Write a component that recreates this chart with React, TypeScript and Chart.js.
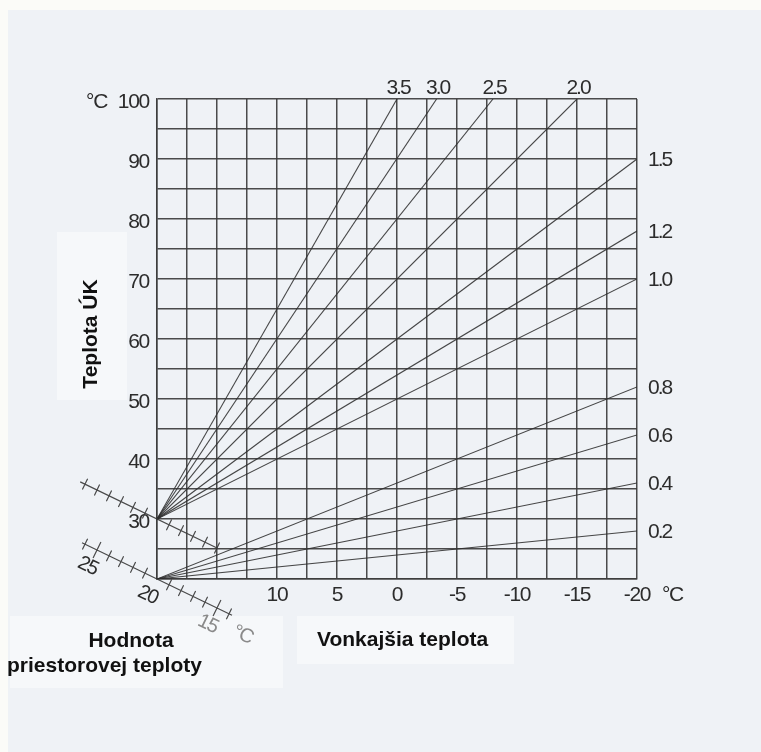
import React, { useEffect, useRef } from 'react';
import { Chart, registerables } from 'chart.js';

Chart.register(...registerables);

// Heating curves: slope label, start point (outdoor 20 °C) and end point
const curveLabels = ['3.5', '3.0', '2.5', '2.0', '1.5', '1.2', '1.0', '0.8', '0.6', '0.4', '0.2'];
const curveStartOutdoor = [20, 20, 20, 20, 20, 20, 20, 20, 20, 20, 20];
const curveStartFlow = [30, 30, 30, 30, 30, 30, 30, 20, 20, 20, 20];
const curveEndOutdoor = [0, -3.3, -8, -15, -20, -20, -20, -20, -20, -20, -20];
const curveEndFlow = [100, 100, 100, 100, 90, 78, 70, 52, 44, 36, 28];

// Axes
const outdoorMin = -20;
const outdoorMax = 20;
const outdoorStep = 2.5;
const flowMin = 20;
const flowMax = 100;
const flowStep = 5;
const outdoorTickLabels = [10, 5, 0, -5, -10, -15, -20];
const flowTickLabels = [100, 90, 80, 70, 60, 50, 40, 30];

// Room temperature (diagonal) scales
const roomScalePivotFlow = [30, 20];
const roomScaleRef = 20;
const roomScaleTicksUpper = [26, 25, 24, 23, 22, 21, 19, 18, 17, 16, 15];
const roomScaleTicksLower = [26, 25, 24, 23, 22, 21, 19, 18, 17, 16, 15, 14];
const roomScaleRangeUpper = [26.4, 15];
const roomScaleRangeLower = [26.25, 13.75];
const roomScaleLongTicks = [25, 15];
const roomScaleLabels = ['25', '20', '15'];
const roomScaleLabelValues = [25, 20, 15];

const unitText = '°C';
const yTitle = 'Teplota ÚK';
const xTitle = 'Vonkajšia teplota';
const roomTitle = ['Hodnota', 'priestorovej teploty'];

const FONT = '"Liberation Sans", Arial, Helvetica, sans-serif';
const TEXT = '#2c2c2c';
const GRID = 'rgba(60,60,60,0.92)';
const CURVE = 'rgba(45,45,45,0.88)';

const decorPlugin = {
  id: 'decor',
  beforeDraw(chart: any) {
    const { ctx, width, height } = chart;
    ctx.save();
    ctx.fillStyle = '#fbfbf8';
    ctx.fillRect(0, 0, width, height);
    ctx.fillStyle = '#eff2f6';
    ctx.fillRect(8, 10, width - 8, height - 10);
    ctx.fillStyle = '#f6f8fa';
    ctx.fillRect(57, 232, 70, 168);
    ctx.fillRect(10, 616, 273, 72);
    ctx.fillRect(297, 616, 217, 48);
    ctx.restore();
    ctx.letterSpacing = '-1.3px';
  },
  afterDraw(chart: any) {
    const { ctx } = chart;
    const xs = chart.scales.x;
    const ys = chart.scales.y;
    ctx.save();

    // curve labels
    ctx.fillStyle = TEXT;
    ctx.font = `21px ${FONT}`;
    ctx.letterSpacing = '-2px';
    curveLabels.forEach((lab, i) => {
      const ex = xs.getPixelForValue(curveEndOutdoor[i]);
      const ey = ys.getPixelForValue(curveEndFlow[i]);
      if (curveEndFlow[i] >= flowMax) {
        ctx.textAlign = 'center';
        ctx.textBaseline = 'alphabetic';
        ctx.fillText(lab, ex + 1, ey - 5);
      } else {
        ctx.textAlign = 'left';
        ctx.textBaseline = 'middle';
        ctx.fillText(lab, ex + 11, ey + 1);
      }
    });

    // unit labels
    ctx.letterSpacing = '-1.3px';
    ctx.textBaseline = 'middle';
    ctx.textAlign = 'right';
    ctx.fillText(unitText, xs.left - 50, ys.getPixelForValue(flowMax) + 3);
    ctx.textAlign = 'left';
    ctx.fillText(unitText, xs.right + 25, ys.bottom + 4 + 12.6);

    // room temperature diagonal scales
    const pxPerUnit = Math.abs(xs.getPixelForValue(roomScaleRef - 1) - xs.getPixelForValue(roomScaleRef));
    const ang = (25.8 * Math.PI) / 180;
    const ux = Math.cos(ang);
    const uy = Math.sin(ang);
    const step = pxPerUnit / ux;
    const pvx = xs.getPixelForValue(curveStartOutdoor[0]);
    const nx = -uy;
    const ny = ux;
    roomScalePivotFlow.forEach((flow, idx) => {
      const pvy = ys.getPixelForValue(flow);
      const pos = (t: number) => {
        const k = roomScaleRef - t;
        return [pvx + ux * step * k, pvy + uy * step * k];
      };
      const range = idx === 0 ? roomScaleRangeUpper : roomScaleRangeLower;
      const ticks = idx === 0 ? roomScaleTicksUpper : roomScaleTicksLower;
      ctx.strokeStyle = 'rgba(55,55,55,0.9)';
      ctx.lineWidth = 1.2;
      ctx.beginPath();
      const a = pos(range[0]);
      const b = pos(range[1]);
      ctx.moveTo(a[0], a[1]);
      ctx.lineTo(b[0], b[1]);
      ticks.forEach((t) => {
        const h = idx === 1 && roomScaleLongTicks.includes(t) ? 9 : 6;
        const p = pos(t);
        ctx.moveTo(p[0] - nx * h, p[1] - ny * h);
        ctx.lineTo(p[0] + nx * h, p[1] + ny * h);
      });
      ctx.stroke();

      if (idx === 1) {
        ctx.font = `20px ${FONT}`;
        ctx.textAlign = 'center';
        ctx.textBaseline = 'middle';
        roomScaleLabels.forEach((lab, j) => {
          const p = pos(roomScaleLabelValues[j] + 0.1);
          const d = 18.5;
          ctx.save();
          ctx.translate(p[0] + nx * d, p[1] + ny * d);
          ctx.rotate(ang);
          ctx.fillStyle = roomScaleLabelValues[j] < roomScaleRef ? '#8a8a8a' : TEXT;
          ctx.fillText(lab, 0, 0);
          ctx.restore();
        });
        const pc = pos(roomScaleRef - 7.6);
        ctx.save();
        ctx.translate(pc[0] + nx * 13, pc[1] + ny * 13);
        ctx.rotate(ang);
        ctx.fillStyle = '#8a8a8a';
        ctx.fillText(unitText, 0, 0);
        ctx.restore();
      }
    });

    // titles
    ctx.letterSpacing = '0px';
    ctx.fillStyle = '#111';
    ctx.font = `bold 21px ${FONT}`;
    ctx.textBaseline = 'alphabetic';
    ctx.save();
    ctx.translate(97, 334);
    ctx.rotate(-Math.PI / 2);
    ctx.textAlign = 'center';
    ctx.fillText(yTitle, 0, 0);
    ctx.restore();
    ctx.textAlign = 'center';
    ctx.fillText(roomTitle[0], 131, 647);
    ctx.textAlign = 'left';
    ctx.fillText(roomTitle[1], 7, 672);
    ctx.fillText(xTitle, 317, 646);

    ctx.restore();
  },
};

export default function App() {
  const ref = useRef<HTMLCanvasElement>(null);
  useEffect(() => {
    const canvas = ref.current;
    if (!canvas) return;
    const chart = new Chart(canvas, {
      type: 'scatter',
      data: {
        datasets: curveLabels.map((lab, i) => ({
          label: lab,
          data: [
            { x: curveStartOutdoor[i], y: curveStartFlow[i] },
            { x: curveEndOutdoor[i], y: curveEndFlow[i] },
          ],
          showLine: true,
          borderColor: CURVE,
          borderWidth: 1.1,
          pointRadius: 0,
          pointHoverRadius: 0,
          fill: false,
        })),
      },
      options: {
        animation: false,
        responsive: false,
        devicePixelRatio: 1,
        events: [],
        layout: { padding: { left: 117, right: 124, top: 99, bottom: 143 } },
        plugins: {
          legend: { display: false },
          tooltip: { enabled: false },
          title: { display: false },
        },
        scales: {
          x: {
            type: 'linear',
            reverse: true,
            min: outdoorMin,
            max: outdoorMax,
            afterFit: (s: any) => {
              s.height = 30;
            },
            ticks: {
              stepSize: outdoorStep,
              autoSkip: false,
              maxRotation: 0,
              padding: 4,
              color: TEXT,
              font: { family: FONT, size: 21 },
              callback: (v: any) => (outdoorTickLabels.includes(Number(v)) ? String(v) : ''),
            },
            grid: { color: GRID, lineWidth: 1.5, drawTicks: false },
            border: { display: true, color: GRID, width: 1.5 },
          },
          y: {
            type: 'linear',
            min: flowMin,
            max: flowMax,
            afterFit: (s: any) => {
              s.width = 40;
            },
            ticks: {
              stepSize: flowStep,
              autoSkip: false,
              padding: 8,
              labelOffset: 3,
              color: TEXT,
              font: { family: FONT, size: 21 },
              callback: (v: any) => (flowTickLabels.includes(Number(v)) ? String(v) : ''),
            },
            grid: { color: GRID, lineWidth: 1.5, drawTicks: false },
            border: { display: true, color: GRID, width: 1.5 },
          },
        },
      },
      plugins: [decorPlugin],
    } as any);
    return () => chart.destroy();
  }, []);
  return (
    <div style={{ position: 'fixed', left: 0, top: 0, width: 761, height: 752, background: '#eff2f6' }}>
      <canvas ref={ref} width={761} height={752} style={{ display: 'block', width: 761, height: 752 }} />
    </div>
  );
}
